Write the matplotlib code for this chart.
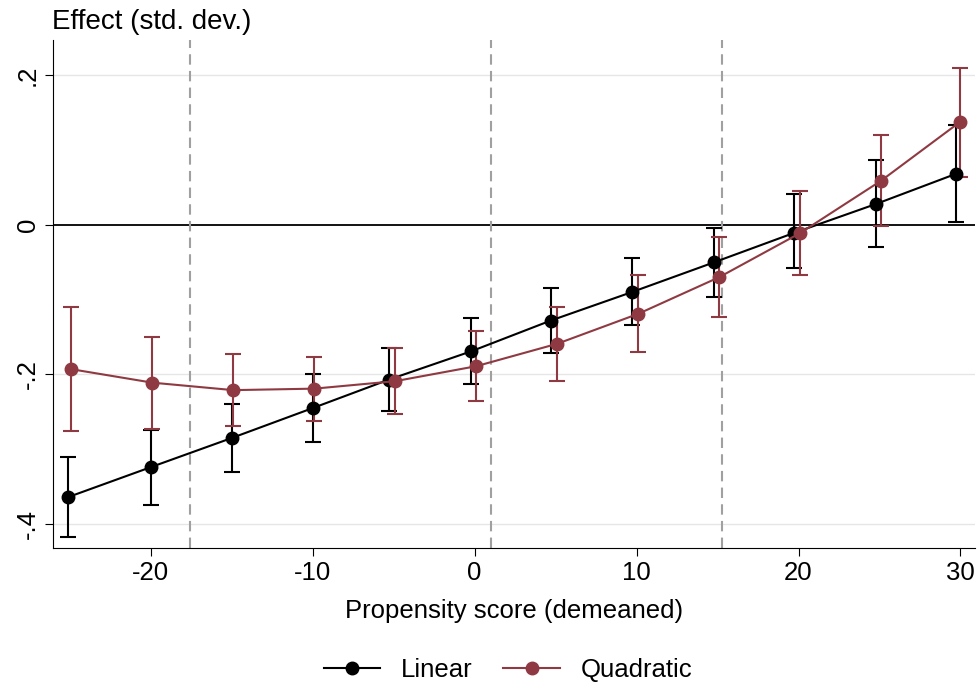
import matplotlib
matplotlib.use("Agg")
import matplotlib.pyplot as plt
from matplotlib.ticker import FuncFormatter

plt.rcParams["font.family"] = ["Liberation Sans", "DejaVu Sans"]
plt.rcParams["axes.unicode_minus"] = False

lin_x = [-25.1, -20.0, -15.0, -10.0, -5.3, -0.2, 4.7, 9.7, 14.8, 19.7, 24.8, 29.7]
lin_y = [-0.364, -0.324, -0.285, -0.245, -0.207, -0.169, -0.128, -0.090, -0.050, -0.011, 0.028, 0.068]
lin_lo = [-0.417, -0.375, -0.330, -0.290, -0.249, -0.213, -0.171, -0.134, -0.096, -0.058, -0.029, 0.004]
lin_hi = [-0.310, -0.274, -0.240, -0.200, -0.165, -0.124, -0.084, -0.044, -0.004, 0.041, 0.087, 0.134]

quad_x = [-24.9, -19.9, -14.9, -9.9, -4.9, 0.1, 5.1, 10.1, 15.1, 20.1, 25.1, 30.0]
quad_y = [-0.193, -0.211, -0.221, -0.219, -0.209, -0.189, -0.159, -0.119, -0.070, -0.011, 0.059, 0.138]
quad_lo = [-0.276, -0.273, -0.269, -0.262, -0.253, -0.235, -0.209, -0.170, -0.123, -0.067, -0.001, 0.064]
quad_hi = [-0.110, -0.150, -0.173, -0.177, -0.165, -0.142, -0.110, -0.067, -0.016, 0.045, 0.120, 0.210]

vlines = [-17.6, 1.0, 15.3]

red = "#8f3a42"

fig = plt.figure(figsize=(9.77, 6.91), dpi=100)
ax = fig.add_axes([0.054, 0.207, 0.944, 0.735])

for y in [-0.4, -0.2, 0.2]:
    ax.axhline(y, color="#e6e6e6", lw=1, zorder=0)
ax.axhline(0, color="black", lw=1.3, zorder=1)
for v in vlines:
    ax.axvline(v, color="#a0a0a0", lw=1.5, ls=(0, (5, 3)), zorder=1)

def draw(x, y, lo, hi, c, label):
    err = [[yy - l for yy, l in zip(y, lo)], [h - yy for yy, h in zip(y, hi)]]
    ax.errorbar(x, y, yerr=err, fmt="none", ecolor=c, elinewidth=1.5, capsize=6, capthick=1.5, zorder=2)
    ax.plot(x, y, "-o", color=c, lw=1.5, ms=9, label=label, zorder=3)

draw(lin_x, lin_y, lin_lo, lin_hi, "black", "Linear")
draw(quad_x, quad_y, quad_lo, quad_hi, red, "Quadratic")

ax.set_xlim(-26.05, 30.9)
ax.set_ylim(-0.432, 0.247)
ax.set_xticks([-20, -10, 0, 10, 20, 30])
ax.set_yticks([-0.4, -0.2, 0, 0.2])
ax.yaxis.set_major_formatter(FuncFormatter(lambda v, p: "0" if abs(v) < 1e-9 else f"{v:.1f}".replace("0.", ".")))
for lab in ax.get_yticklabels():
    lab.set_rotation(90)
    lab.set_va("center")
ax.tick_params(labelsize=18.5, length=6)
for s in ["top", "right"]:
    ax.spines[s].set_visible(False)
ax.set_xlabel("Propensity score (demeaned)", fontsize=18.5, labelpad=10)
fig.text(0.053, 0.968, "Effect (std. dev.)", fontsize=20, va="center")
fig.legend(loc="lower center", ncol=2, frameon=False, fontsize=18.5, bbox_to_anchor=(0.52, -0.02),
           handlelength=2.2, columnspacing=1.2)
fig.savefig("out.png", dpi=100)
